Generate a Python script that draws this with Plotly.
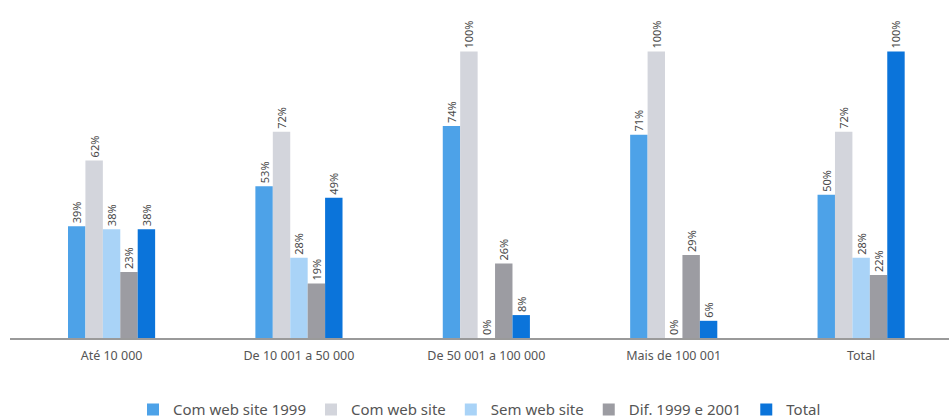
import plotly.graph_objects as go

categories = ["Até 10 000", "De 10 001 a 50 000", "De 50 001 a 100 000", "Mais de 100 001", "Total"]
series_names = ["Com web site 1999", "Com web site", "Sem web site", "Dif. 1999 e 2001", "Total"]
com_web_1999 = [39, 53, 74, 71, 50]
com_web = [62, 72, 100, 100, 72]
sem_web = [38, 28, 0, 0, 28]
dif_1999_2001 = [23, 19, 26, 29, 22]
total = [38, 49, 8, 6, 100]

series_values = [com_web_1999, com_web, sem_web, dif_1999_2001, total]
colors = ["#4da2e8", "#d3d5dc", "#a9d3f7", "#9c9ca2", "#0b74da"]

fig = go.Figure()
for name, vals, col in zip(series_names, series_values, colors):
    fig.add_trace(go.Bar(
        x=categories, y=vals, name=name,
        marker=dict(color=col, line=dict(width=0)),
        text=[f"{v}%" for v in vals],
        textposition="outside", textangle=-90,
        constraintext="none",
        textfont=dict(family="Noto Sans", size=11, color="#4a4a4a"),
        cliponaxis=False,
    ))

fig.update_layout(
    width=949, height=418,
    margin=dict(l=10, r=0, t=0, b=80, autoexpand=False),
    barmode="group", bargap=0.535, bargroupgap=0,
    plot_bgcolor="white", paper_bgcolor="white",
    font=dict(family="Noto Sans", color="#555555"),
    showlegend=True,
    legend=dict(
        orientation="h", x=0.5, xanchor="center",
        yref="container", y=0.02, yanchor="middle",
        font=dict(size=15, color="#555555"), itemwidth=30,
        traceorder="normal",
    ),
)
fig.update_xaxes(
    range=[-0.542, 4.469], showgrid=False, showline=True,
    linecolor="#9a9a9a", linewidth=1.5, ticks="",
    ticklabelstandoff=5,
    tickfont=dict(size=12.5, color="#555555"),
)
fig.update_yaxes(range=[0, 118], visible=False, showgrid=False)

fig.write_html("out.html")
